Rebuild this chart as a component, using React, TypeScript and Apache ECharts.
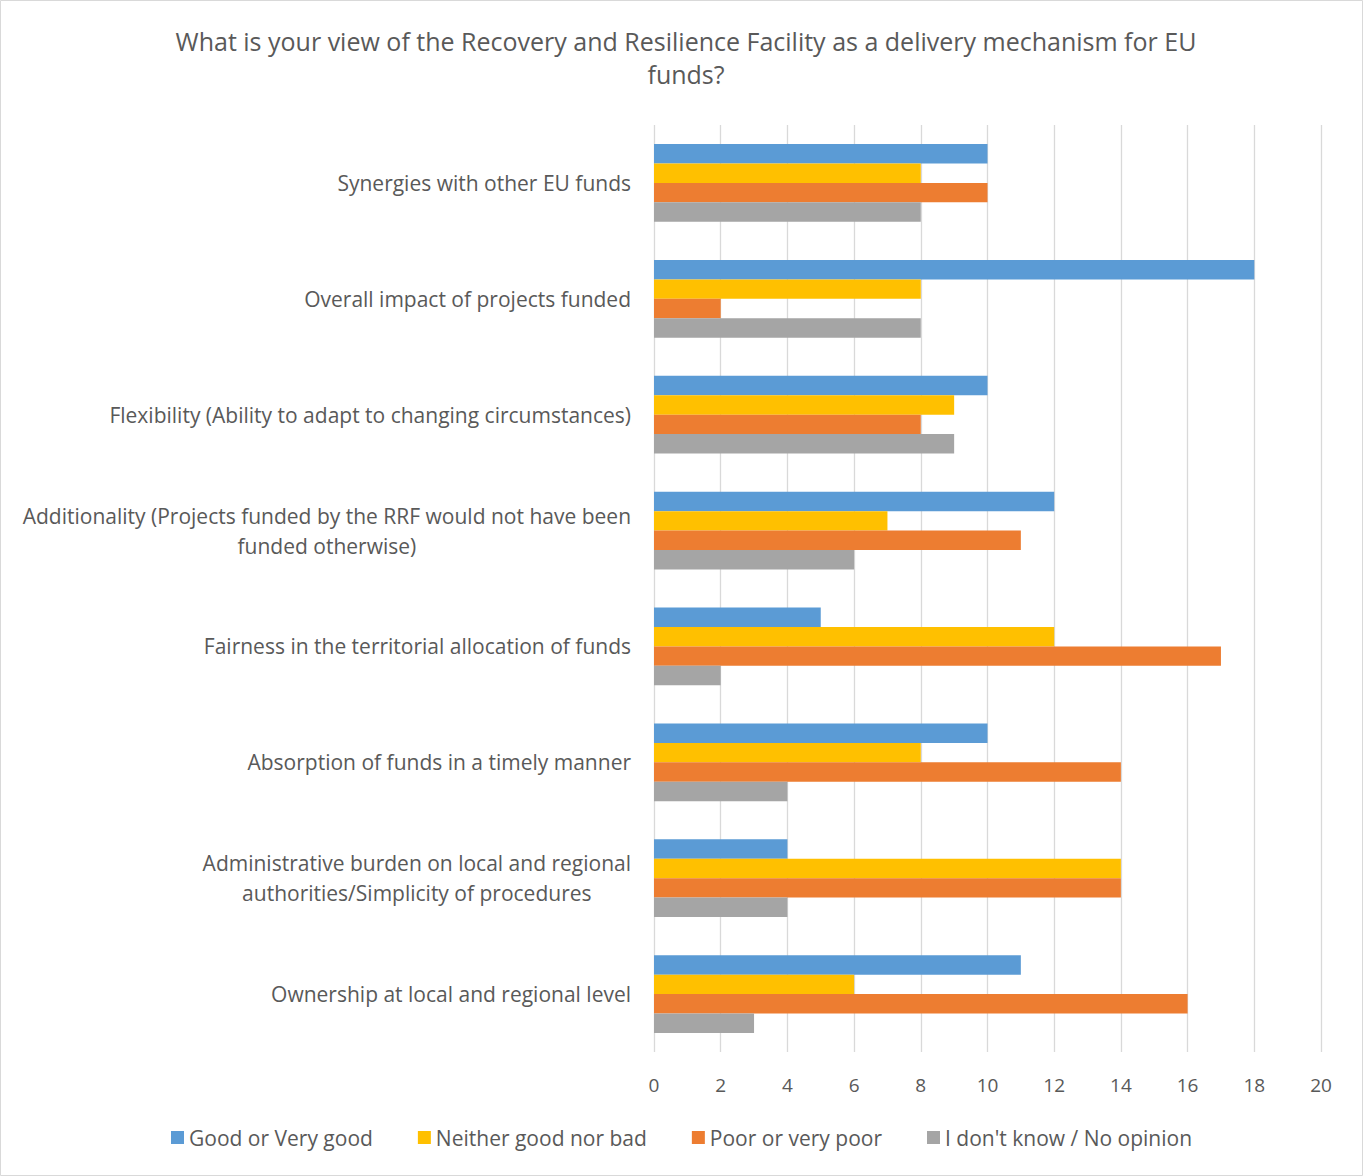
import React, { useEffect, useRef } from "react";
import * as echarts from "echarts";

const categories = [
  "Synergies with other EU funds",
  "Overall impact of projects funded",
  "Flexibility (Ability to adapt to changing circumstances)",
  "Additionality (Projects funded by the RRF would not have been\nfunded otherwise)",
  "Fairness in the territorial allocation of funds",
  "Absorption of funds in a timely manner",
  "Administrative burden on local and regional\nauthorities/Simplicity of procedures",
  "Ownership at local and regional level",
];

const seriesNames = [
  "Good or Very good",
  "Neither good nor bad",
  "Poor or very poor",
  "I don't know / No opinion",
];

const goodValues = [10, 18, 10, 12, 5, 10, 4, 11];
const neitherValues = [8, 8, 9, 7, 12, 8, 14, 6];
const poorValues = [10, 2, 8, 11, 17, 14, 14, 16];
const dontKnowValues = [8, 8, 9, 6, 2, 4, 4, 3];

const colors = ["#5B9BD5", "#FFC000", "#ED7D31", "#A5A5A5"];

const FONT = "'Open Sans', sans-serif";
const TEXT = "#595959";

export default function App() {
  const ref = useRef<HTMLDivElement>(null);
  useEffect(() => {
    if (!ref.current) return;
    const chart = echarts.init(ref.current, undefined, { renderer: "svg" });
    const data = [goodValues, neitherValues, poorValues, dontKnowValues];
    chart.setOption({
      animation: false,
      backgroundColor: "#ffffff",
      textStyle: { fontFamily: FONT, color: TEXT },
      title: {
        text: "What is your view of the Recovery and Resilience Facility as a delivery mechanism for EU\nfunds?",
        left: 681,
        top: 19,
        textAlign: "center",
        textStyle: {
          fontFamily: FONT,
          fontSize: 25,
          fontWeight: "normal",
          color: TEXT,
          lineHeight: 33,
        },
      },
      graphic: [
        {
          type: "rect",
          shape: { x: 0.5, y: 0.5, width: 1362, height: 1175 },
          style: { fill: "none", stroke: "#D9D9D9", lineWidth: 1 },
          silent: true,
        },
      ],
      legend: {
        bottom: 23,
        left: "center",
        itemWidth: 13,
        itemHeight: 13,
        itemGap: 45,
        icon: "rect",
        textStyle: { fontFamily: FONT, fontSize: 21, color: TEXT, padding: [0, 0, 0, 0] },
        data: seriesNames,
      },
      grid: { left: 654, right: 42, top: 125, bottom: 124, containLabel: false },
      xAxis: {
        type: "value",
        min: 0,
        max: 20,
        interval: 2,
        axisLine: { show: false },
        axisTick: { show: false },
        splitLine: { lineStyle: { color: "#D9D9D9", width: 1.3 } },
        axisLabel: { fontFamily: FONT, fontSize: 19, color: TEXT, margin: 23 },
      },
      yAxis: {
        type: "category",
        inverse: true,
        data: categories,
        axisLine: { show: false },
        axisTick: { show: false },
        axisLabel: {
          margin: 23,
          fontFamily: FONT,
          fontSize: 21,
          color: TEXT,
          formatter: (v: string) =>
            v
              .split("\n")
              .map((l) => "{c|" + l + "}")
              .join("\n"),
          rich: {
            c: { align: "center", fontFamily: FONT, fontSize: 21, color: TEXT, lineHeight: 30 },
          },
        },
      },
      series: seriesNames.map((name, i) => ({
        name,
        type: "bar",
        data: data[i],
        barGap: "0%",
        barCategoryGap: "33%",
        itemStyle: { color: colors[i] },
      })),
    });
    return () => chart.dispose();
  }, []);
  return (
    <div
      ref={ref}
      style={{ position: "fixed", left: 0, top: 0, width: 1363, height: 1176 }}
    />
  );
}
